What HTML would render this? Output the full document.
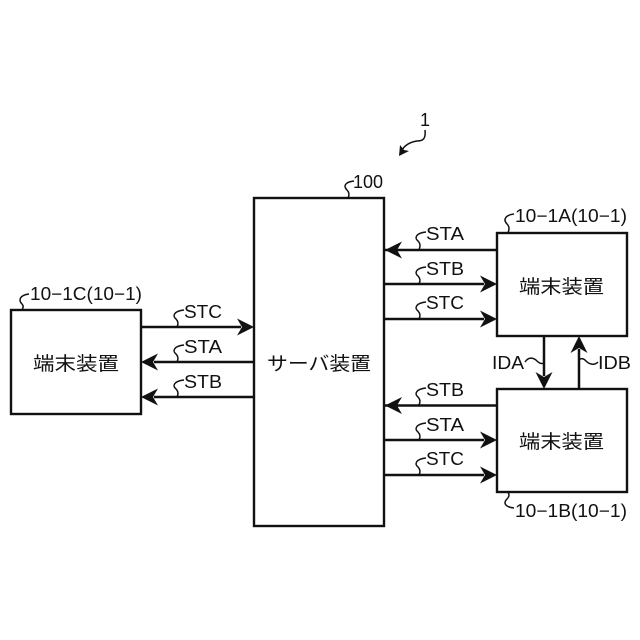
<!DOCTYPE html>
<html>
<head>
<meta charset="utf-8">
<style>
html,body{margin:0;padding:0;background:#fff}
svg{display:block}
text{font-family:"Liberation Sans","Noto Sans CJK JP",sans-serif;fill:#111;font-size:18px}
.j{font-size:19px}
</style>
</head>
<body>
<svg width="640" height="640" viewBox="0 0 640 640" xmlns="http://www.w3.org/2000/svg">
<defs>
<g id="r"><path d="M0 0L-17 -8.500L-12 0L-17 8.500Z" fill="#111"/></g>
</defs>
<g fill="#fff" stroke="#111" stroke-width="2.400">
<rect x="254" y="198" width="130" height="328"/>
<rect x="497" y="233" width="130" height="103"/>
<rect x="497" y="389" width="130" height="103"/>
<rect x="11" y="310" width="130" height="104"/>
</g>
<g stroke="#111" stroke-width="2.500" fill="none">
<path d="M385 250H497M384 284H484M384 319H484"/>
<path d="M385 405.500H497M384 440H484M384 475H484"/>
<path d="M141 327H241M254 362H154M254 397H154"/>
<path d="M544 336V376M579 389V349"/>
</g>
<use href="#r" transform="translate(385 250) rotate(180)"/>
<use href="#r" transform="translate(497 284)"/>
<use href="#r" transform="translate(497 319)"/>
<use href="#r" transform="translate(385 405.500) rotate(180)"/>
<use href="#r" transform="translate(497 440)"/>
<use href="#r" transform="translate(497 475)"/>
<use href="#r" transform="translate(254 327)"/>
<use href="#r" transform="translate(141 362) rotate(180)"/>
<use href="#r" transform="translate(141 397) rotate(180)"/>
<use href="#r" transform="translate(544 389) rotate(90)"/>
<use href="#r" transform="translate(579 336) rotate(-90)"/>

<g stroke="#111" stroke-width="1.500" fill="none">
<path d="M426 232C416 233 414 238 418 241C421 244 420 247 419 250"/>
<path d="M426 267C416 268 414 273 418 276C421 279 420 282 419 284"/>
<path d="M426 302C416 303 414 308 418 311C421 314 420 317 419 319"/>
<path d="M426 388C416 389 414 394 418 397C421 400 420 403 419 405"/>
<path d="M426 423C416 424 414 429 418 432C421 435 420 438 419 440"/>
<path d="M426 458C416 459 414 464 418 467C421 470 420 473 419 475"/>
<path d="M184 310C174 311 172 316 176 319C179 322 178 325 177 327"/>
<path d="M184 345C174 346 172 351 176 354C179 357 178 360 177 362"/>
<path d="M184 380C174 381 172 386 176 389C179 392 178 395 177 397"/>
<path d="M514 214C505 215 503 220 507 224C510 227 509 230 508 233"/>
<path d="M514 508C505 507 503 503 507 499C510 496 509 494 508 492"/>
<path d="M29 294C20 295 18 300 22 304C24 306 23 308 22 310"/>
<path d="M354 181C345 182 343 186 347 190C350 193 349 196 348 198"/>
<path d="M525 362C529 356 534 358 537 361C540 364 542 364 544 363"/>
<path d="M598 362C594 366 589 364 586 361C583 358 581 358 579 360"/>
<path d="M425 130C426 139 423 141 417 141C411 142 405 145 402 150"/>
</g>
<path d="M399 156L400 145L404 150L409 151Z" fill="#111"/>

<text x="426" y="240" textLength="38" lengthAdjust="spacingAndGlyphs">STA</text>
<text x="426" y="275" textLength="38" lengthAdjust="spacingAndGlyphs">STB</text>
<text x="426" y="309" textLength="38" lengthAdjust="spacingAndGlyphs">STC</text>
<text x="426" y="396" textLength="38" lengthAdjust="spacingAndGlyphs">STB</text>
<text x="426" y="431" textLength="38" lengthAdjust="spacingAndGlyphs">STA</text>
<text x="426" y="465" textLength="38" lengthAdjust="spacingAndGlyphs">STC</text>
<text x="184" y="318" textLength="38" lengthAdjust="spacingAndGlyphs">STC</text>
<text x="184" y="353" textLength="38" lengthAdjust="spacingAndGlyphs">STA</text>
<text x="184" y="388" textLength="38" lengthAdjust="spacingAndGlyphs">STB</text>
<text x="515" y="222" textLength="112" lengthAdjust="spacingAndGlyphs">10−1A(10−1)</text>
<text x="515" y="517" textLength="112" lengthAdjust="spacingAndGlyphs">10−1B(10−1)</text>
<text x="30" y="300" textLength="112" lengthAdjust="spacingAndGlyphs">10−1C(10−1)</text>
<text x="353" y="188">100</text>
<text x="420" y="126">1</text>
<text x="492" y="369" textLength="32" lengthAdjust="spacingAndGlyphs">IDA</text>
<text x="598" y="369" textLength="33" lengthAdjust="spacingAndGlyphs">IDB</text>
<text class="j" x="519" y="293" textLength="85" lengthAdjust="spacingAndGlyphs">端末装置</text>
<text class="j" x="519" y="448" textLength="85" lengthAdjust="spacingAndGlyphs">端末装置</text>
<text class="j" x="33" y="370" textLength="86" lengthAdjust="spacingAndGlyphs">端末装置</text>
<text class="j" x="267" y="370" textLength="104" lengthAdjust="spacingAndGlyphs">サーバ装置</text>
</svg>
</body>
</html>
